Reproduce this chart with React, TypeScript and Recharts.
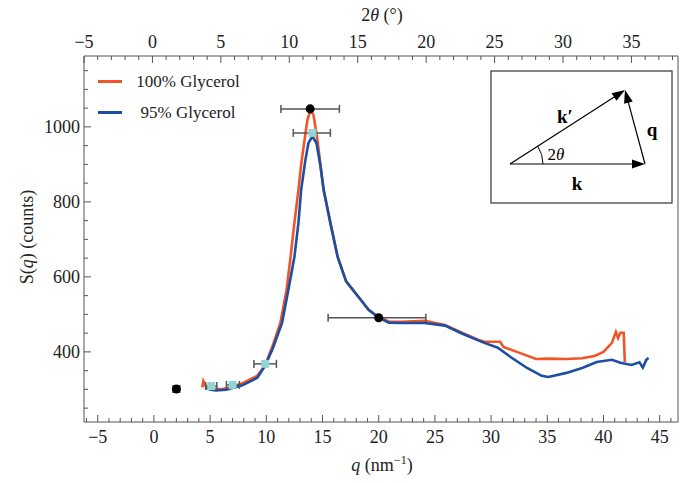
import { ComposedChart, Line, Scatter, XAxis, YAxis, ErrorBar, Legend } from "recharts";

const FONT = '"Liberation Serif", "Times New Roman", serif';
const AXIS = "#555";
const RED = "#ef5529";
const BLUE = "#1c4fa3";
const CYAN = "#93d4d4";

// 100% glycerol trace
const redQ = [4.3, 4.4, 4.6, 5.0, 6.0, 7.0, 8.0, 8.5, 9.2, 9.9, 10.6, 11.25, 11.8, 12.16, 12.5, 12.86, 13.1, 13.4, 13.66, 13.93, 14.2, 14.55, 14.9, 15.1, 15.7, 16.35, 17.1, 18.4, 19.1, 20.0, 20.9, 22.0, 24.1, 25.9, 27.4, 28.9, 29.4, 30.8, 31.1, 32.3, 34.0, 35.1, 36.7, 38.1, 39.2, 40.0, 40.75, 41.1, 41.3, 41.5, 41.8, 41.9];
const redS = [305, 322, 310, 303, 300, 307, 318, 326, 336, 365, 419, 477, 565, 653, 744, 832, 899, 965, 1019, 1045, 1032, 965, 880, 832, 744, 653, 588, 539, 512, 493, 481, 480, 483, 472, 451, 432, 427, 427, 413, 400, 381, 382, 381, 383, 389, 400, 424, 453, 437, 451, 451, 373];

// 95% glycerol trace
const blueQ = [4.6, 5.0, 5.5, 6.45, 7.0, 7.8, 8.5, 9.2, 9.9, 10.6, 11.4, 11.96, 12.5, 12.86, 13.1, 13.48, 13.75, 14.1, 14.46, 14.8, 15.1, 15.7, 16.35, 17.1, 18.4, 19.1, 20.0, 20.9, 22.0, 24.1, 25.9, 27.4, 28.9, 29.4, 30.6, 31.7, 33.2, 34.5, 35.1, 36.7, 38.1, 39.4, 40.75, 41.5, 42.5, 43.2, 43.5, 43.8, 44.0];
const blueS = [304, 300, 297, 299, 304, 310, 320, 331, 363, 411, 477, 565, 653, 744, 832, 912, 957, 975, 957, 899, 832, 744, 653, 588, 539, 512, 491, 478, 477, 477, 470, 449, 430, 424, 411, 387, 357, 336, 333, 344, 357, 373, 379, 371, 365, 372, 358, 378, 384];

// marked points with horizontal error bars
const blackQ = [2.0, 13.9, 20.0];
const blackS = [301, 1048, 491];
const blackLo = [0.3, 2.6, 4.5];
const blackHi = [0.3, 2.6, 4.2];

const cyanQ = [5.1, 7.0, 9.9, 14.1];
const cyanS = [309, 312, 368, 984];
const cyanLo = [0.5, 0.55, 1.0, 1.7];
const cyanHi = [0.5, 0.6, 1.0, 1.6];

// axis ranges
const qDomain = [-6.22, 46.63];
const thetaDomain = [-5, 38.4];
const sDomain = [213, 1189];

const qTicks = Array.from({ length: 53 }, (_, i) => i - 6);
const thetaTicks = Array.from({ length: 44 }, (_, i) => i - 5);
const sTicks = Array.from({ length: 19 }, (_, i) => 250 + i * 50);

const redData = redQ.map((q, i) => ({ q, s: redS[i] }));
const blueData = blueQ.map((q, i) => ({ q, s: blueS[i] }));
const blackData = blackQ.map((q, i) => ({ q, s: blackS[i], ex: [blackLo[i], blackHi[i]] }));
const cyanData = cyanQ.map((q, i) => ({ q, s: cyanS[i], ex: [cyanLo[i], cyanHi[i]] }));
// invisible helper so the top 2θ axis and right frame get drawn
const frameData = thetaDomain.map((t) => ({ t, s: sDomain[0] }));

const fmt = (v: number) => (v < 0 ? "\u2212" + Math.abs(v) : String(v));

const BottomTick = ({ x, y, payload }: any) => {
  const major = payload.value % 5 === 0;
  return (
    <g>
      <line x1={x} y1={y} x2={x} y2={y - (major ? 7 : 4)} stroke={AXIS} />
      {major && (
        <text x={x} y={y + 21} textAnchor="middle" fontFamily={FONT} fontSize={18} fill="#222">
          {fmt(payload.value)}
        </text>
      )}
    </g>
  );
};

const TopTick = ({ x, y, payload }: any) => {
  const major = payload.value % 5 === 0;
  return (
    <g>
      <line x1={x} y1={y} x2={x} y2={y + (major ? 7 : 4)} stroke={AXIS} />
      {major && (
        <text x={x} y={y - 8} textAnchor="middle" fontFamily={FONT} fontSize={18} fill="#222">
          {fmt(payload.value)}
        </text>
      )}
    </g>
  );
};

const LeftTick = ({ x, y, payload }: any) => {
  const major = payload.value % 200 === 0;
  return (
    <g>
      <line x1={x} y1={y} x2={x + (major ? 7 : 4)} y2={y} stroke={AXIS} />
      {major && (
        <text x={x - 4} y={y + 6} textAnchor="end" fontFamily={FONT} fontSize={18} fill="#222">
          {payload.value}
        </text>
      )}
    </g>
  );
};

const renderLegend = (props: any) => (
  <div style={{ fontFamily: FONT, fontSize: 17, color: "#222" }}>
    {(props.payload || []).filter((e: any) => e.type !== "none").map((e: any) => (
      <div key={e.value} style={{ display: "flex", alignItems: "center", height: 31 }}>
        <span style={{ display: "inline-block", width: 24, height: 2.5, background: e.color, marginLeft: 2 }} />
        <span style={{ display: "inline-block", width: 120, textAlign: "center", marginLeft: 6 }}>{e.value}</span>
      </div>
    ))}
  </div>
);

function head(x1: number, y1: number, x2: number, y2: number) {
  const L = Math.hypot(x2 - x1, y2 - y1);
  const ux = (x2 - x1) / L, uy = (y2 - y1) / L;
  const bx = x2 - ux * 13, by = y2 - uy * 13;
  const nx = -uy, ny = ux;
  return `${x2},${y2} ${bx + nx * 4.5},${by + ny * 4.5} ${bx - nx * 4.5},${by - ny * 4.5}`;
}

function Inset() {
  const O = [510, 164], K = [645, 164], P = [625, 90];
  const back = (a: number[], b: number[]) => {
    const L = Math.hypot(b[0] - a[0], b[1] - a[1]);
    return [b[0] - ((b[0] - a[0]) / L) * 10, b[1] - ((b[1] - a[1]) / L) * 10];
  };
  const kE = back(O, K), pE = back(O, P), qE = back(K, P);
  return (
    <g>
      <rect x={491} y={71} width={181} height={132} fill="#fff" stroke="#444" strokeWidth={1.3} />
      <line x1={O[0]} y1={O[1]} x2={kE[0]} y2={kE[1]} stroke="#000" strokeWidth={1.2} />
      <line x1={O[0]} y1={O[1]} x2={pE[0]} y2={pE[1]} stroke="#000" strokeWidth={1.2} />
      <line x1={K[0]} y1={K[1]} x2={qE[0]} y2={qE[1]} stroke="#000" strokeWidth={1.2} />
      <polygon points={head(O[0], O[1], K[0], K[1])} fill="#000" />
      <polygon points={head(O[0], O[1], P[0], P[1])} fill="#000" />
      <polygon points={head(K[0], K[1], P[0], P[1])} fill="#000" />
      <path d="M 543 164 A 33 33 0 0 0 537.7 146.1" fill="none" stroke="#000" strokeWidth={1} />
      <text x={565} y={123} textAnchor="middle" fontFamily={FONT} fontSize={19} fontWeight="bold">k′</text>
      <text x={652} y={136} textAnchor="middle" fontFamily={FONT} fontSize={19} fontWeight="bold">q</text>
      <text x={556} y={160} textAnchor="middle" fontFamily={FONT} fontSize={17}>
        2<tspan fontStyle="italic">θ</tspan>
      </text>
      <text x={577} y={190} textAnchor="middle" fontFamily={FONT} fontSize={19} fontWeight="bold">k</text>
    </g>
  );
}

export default function App() {
  return (
    <div style={{ position: "absolute", left: 0, top: 0, width: 690, height: 483, background: "#fff" }}>
      <ComposedChart width={690} height={483} margin={{ top: 0, right: 0, bottom: 0, left: 0 }}>
        <XAxis
          dataKey="q"
          type="number"
          domain={qDomain}
          allowDataOverflow
          ticks={qTicks}
          interval={0}
          height={61}
          tickSize={0}
          tickMargin={0}
          tickLine={false}
          tick={<BottomTick />}
          axisLine={{ stroke: AXIS }}
        />
        <XAxis
          xAxisId="top"
          dataKey="t"
          orientation="top"
          type="number"
          domain={thetaDomain}
          allowDataOverflow
          ticks={thetaTicks}
          interval={0}
          height={56}
          tickSize={0}
          tickMargin={0}
          tickLine={false}
          tick={<TopTick />}
          axisLine={{ stroke: AXIS }}
        />
        <YAxis
          dataKey="s"
          type="number"
          domain={sDomain}
          allowDataOverflow
          ticks={sTicks}
          interval={0}
          width={84}
          tickSize={0}
          tickMargin={0}
          tickLine={false}
          tick={<LeftTick />}
          axisLine={{ stroke: AXIS }}
        />
        <YAxis
          yAxisId="right"
          dataKey="s"
          orientation="right"
          type="number"
          domain={sDomain}
          allowDataOverflow
          width={12}
          tick={false}
          tickLine={false}
          axisLine={{ stroke: AXIS }}
        />
        <Legend
          layout="vertical"
          align="center"
          verticalAlign="middle"
          content={renderLegend}
          wrapperStyle={{ left: 96, top: 66, width: 170 }}
        />
        <Line xAxisId="top" yAxisId="right" data={frameData} dataKey="s" stroke="none" dot={false} legendType="none" isAnimationActive={false} />
        <Line data={redData} dataKey="s" name="100% Glycerol" stroke={RED} strokeWidth={2.6} dot={false} isAnimationActive={false} />
        <Line data={blueData} dataKey="s" name="95% Glycerol" stroke={BLUE} strokeWidth={2.6} dot={false} isAnimationActive={false} />
        <Scatter data={blackData} dataKey="s" fill="#000" shape="circle" legendType="none" isAnimationActive={false}>
          <ErrorBar dataKey="ex" direction="x" width={4} stroke="#555" strokeWidth={1.5} />
        </Scatter>
        <Scatter data={cyanData} dataKey="s" fill={CYAN} shape="square" legendType="none" isAnimationActive={false}>
          <ErrorBar dataKey="ex" direction="x" width={4} stroke="#555" strokeWidth={1.5} />
        </Scatter>
      </ComposedChart>
      <svg width={690} height={483} style={{ position: "absolute", left: 0, top: 0, pointerEvents: "none" }}>
        <Inset />
        <text x={382} y={21} textAnchor="middle" fontFamily={FONT} fontSize={18} fill="#222">
          2<tspan fontStyle="italic">θ</tspan> (°)
        </text>
        <text x={382} y={471} textAnchor="middle" fontFamily={FONT} fontSize={18} fill="#222">
          <tspan fontStyle="italic">q</tspan> (nm<tspan fontSize={12} dy={-7}>−1</tspan><tspan dy={7}>)</tspan>
        </text>
        <text transform="translate(27,237) rotate(-90)" textAnchor="middle" dy="0.35em" fontFamily={FONT} fontSize={18} fill="#222">
          S(<tspan fontStyle="italic">q</tspan>) (counts)
        </text>
      </svg>
    </div>
  );
}
